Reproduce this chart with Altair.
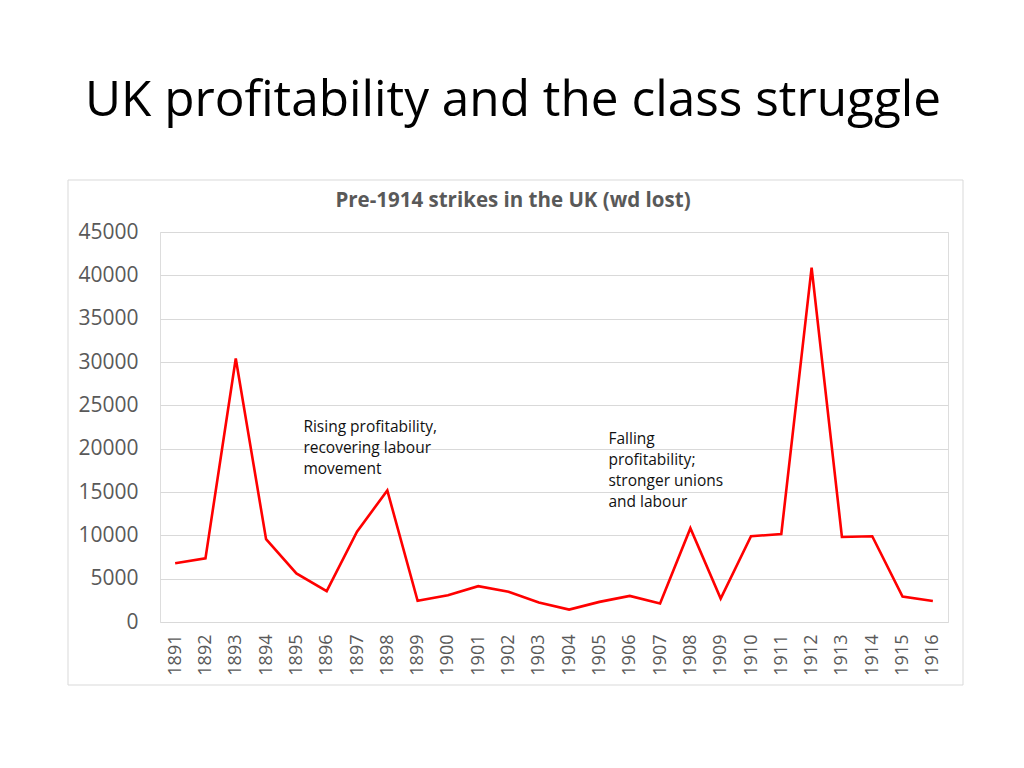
import altair as alt
import pandas as pd

years = [str(y) for y in range(1891, 1917)]
days_lost = [6770, 7340, 30400, 9550, 5600, 3560, 10430, 15180, 2440, 3090,
             4130, 3480, 2250, 1430, 2320, 3010, 2130, 10820, 2710, 9890,
             10160, 40900, 9810, 9890, 2940, 2430]

y_ticks = [0, 5000, 10000, 15000, 20000, 25000, 30000, 35000, 40000, 45000]

note1_lines = ["Rising profitability,", "recovering  labour", "movement"]
note1_year, note1_value = "1895", 23300
note2_lines = ["Falling", "profitability;", "stronger  unions", "and labour"]
note2_year, note2_value = "1905", 21900

df = pd.DataFrame({"year": years, "days": days_lost})
one = pd.DataFrame({"k": [0]})

FONT = "Open Sans"
GRAY = "#595959"

x_enc = alt.X("year:O", sort=years, title=None,
              axis=alt.Axis(labelAngle=-90, labelFontSize=18, labelColor=GRAY,
                            labelFont=FONT, ticks=False, domain=False,
                            labelPadding=12, grid=False, labelBaseline="middle",
                            labelAlign="right"))
y_enc = alt.Y("days:Q", title=None,
              scale=alt.Scale(domain=[0, 45000], nice=False),
              axis=alt.Axis(values=y_ticks, format="d", labelFontSize=21,
                            labelColor=GRAY, labelFont=FONT, ticks=False,
                            domain=False, labelPadding=22,
                            gridColor="#d9d9d9", gridWidth=1))

box = alt.Chart(one).mark_rect(fill=None, stroke="#d9d9d9", strokeWidth=1).encode(
    x=alt.value(-92), x2=alt.value(803), y=alt.value(-52), y2=alt.value(453)
)

line = alt.Chart(df).mark_line(color="#ff0000", strokeWidth=2.6).encode(
    x=x_enc, y=y_enc
)

note1 = alt.Chart(one).mark_text(
    text=note1_lines, align="left", baseline="top", fontSize=15.5,
    font=FONT, color="#111111", lineHeight=20.8, dx=7
).encode(x=alt.datum(note1_year), y=alt.datum(note1_value))

note2 = alt.Chart(one).mark_text(
    text=note2_lines, align="left", baseline="top", fontSize=15.5,
    font=FONT, color="#111111", lineHeight=20.8, dx=9
).encode(x=alt.datum(note2_year), y=alt.datum(note2_value))

chart = alt.layer(box, line, note1, note2).properties(
    width=788, height=390,
    title=alt.TitleParams(
        text="UK profitability and the class struggle",
        subtitle="Pre-1914 strikes in the UK (wd lost)",
        font=FONT, fontSize=49.5, fontWeight="normal", color="#000000",
        subtitleFont=FONT, subtitleFontSize=20.5, subtitleFontWeight="bold",
        subtitleColor=GRAY, subtitlePadding=65, anchor="middle",
        frame="group", dx=-41, offset=-33
    ),
    autosize=alt.AutoSizeParams(type="none"),
    padding={"left": 152, "top": 224, "right": 68, "bottom": 146},
).configure_view(stroke=None).configure(background="white")

chart.save("out.html", embed_options={"renderer": "svg", "actions": False})
